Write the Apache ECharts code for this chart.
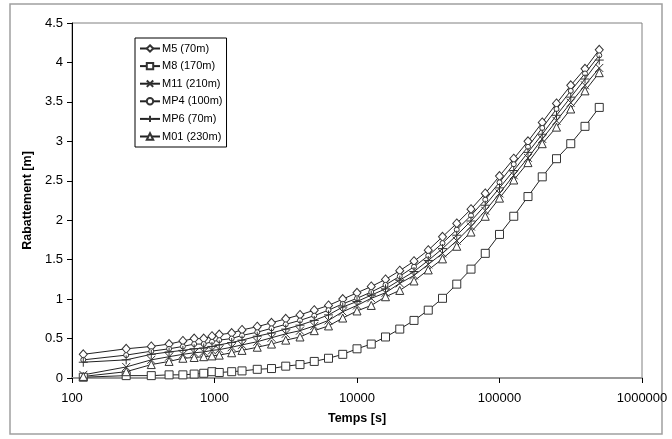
<!DOCTYPE html>
<html>
<head>
    <meta charset="utf-8"/>
    <title>Rabattement</title>
    <script src="https://cdn.jsdelivr.net/npm/echarts@6/dist/echarts.min.js"></script>
    <style>
        html, body { margin: 0; padding: 0; background: #fff; }
        #chart { width: 672px; height: 439px; }
    </style>
</head>
<body>
<div id="chart"></div>
<script type="text/javascript">
// temps [s]
var temps = [120, 240, 360, 480, 600, 720, 840, 960, 1080, 1320, 1560,
    1995, 2512, 3162, 3981, 5012, 6310, 7943,
    10000, 12589, 15849, 19953, 25119, 31623, 39811, 50119, 63096, 79433,
    100000, 125893, 158489, 199526, 251189, 316228, 398107, 501187];

// rabattement [m]
var m5 = [0.30, 0.37, 0.40, 0.43, 0.47, 0.50, 0.50, 0.53, 0.55, 0.57, 0.61,
    0.65, 0.70, 0.75, 0.80, 0.86, 0.92, 1.00,
    1.08, 1.16, 1.25, 1.36, 1.48, 1.62, 1.79, 1.96, 2.14, 2.34,
    2.56, 2.78, 3.00, 3.24, 3.48, 3.71, 3.92, 4.16];
var m8 = [0.01, 0.03, 0.03, 0.04, 0.04, 0.05, 0.06, 0.08, 0.07, 0.08, 0.09,
    0.11, 0.12, 0.15, 0.17, 0.21, 0.25, 0.30,
    0.37, 0.43, 0.52, 0.62, 0.73, 0.86, 1.01, 1.19, 1.38, 1.58,
    1.82, 2.05, 2.30, 2.55, 2.78, 2.97, 3.19, 3.43];
var m11 = [0.04, 0.14, 0.23, 0.27, 0.30, 0.32, 0.33, 0.35, 0.36, 0.39, 0.42,
    0.46, 0.51, 0.56, 0.60, 0.66, 0.73, 0.84,
    0.92, 1.01, 1.08, 1.20, 1.30, 1.44, 1.58, 1.74, 1.92, 2.12,
    2.34, 2.57, 2.79, 3.03, 3.26, 3.49, 3.71, 3.93];
var mp4 = [0.23, 0.29, 0.34, 0.37, 0.40, 0.43, 0.43, 0.46, 0.48, 0.50, 0.54,
    0.58, 0.63, 0.68, 0.73, 0.79, 0.86, 0.94,
    1.01, 1.09, 1.18, 1.29, 1.41, 1.55, 1.71, 1.88, 2.06, 2.26,
    2.48, 2.71, 2.93, 3.17, 3.41, 3.64, 3.86, 4.09];
var mp6 = [0.20, 0.23, 0.30, 0.33, 0.35, 0.37, 0.38, 0.40, 0.42, 0.45, 0.48,
    0.53, 0.57, 0.62, 0.67, 0.73, 0.80, 0.90,
    0.97, 1.05, 1.13, 1.24, 1.35, 1.49, 1.64, 1.81, 1.99, 2.19,
    2.41, 2.63, 2.86, 3.09, 3.33, 3.56, 3.79, 4.03];
var m01 = [0.02, 0.08, 0.17, 0.21, 0.25, 0.26, 0.27, 0.28, 0.29, 0.32, 0.35,
    0.39, 0.43, 0.48, 0.52, 0.60, 0.66, 0.76,
    0.85, 0.92, 1.03, 1.11, 1.23, 1.37, 1.51, 1.67, 1.85, 2.05,
    2.28, 2.51, 2.73, 2.97, 3.18, 3.41, 3.64, 3.87];

var noms = ['M5 (70m)', 'M8 (170m)', 'M11 (210m)', 'MP4 (100m)', 'MP6 (70m)', 'M01 (230m)'];

var FONT = 'Arial, "Liberation Sans", sans-serif';
var chart = echarts.init(document.getElementById('chart'));

function paires(ys) {
    return temps.map(function(t, i) { return [t, ys[i]]; });
}

function serie(nom, ys, symbole, taille) {
    return {
        name: nom,
        type: 'line',
        data: paires(ys),
        symbol: symbole,
        symbolSize: taille,
        showAllSymbol: true,
        lineStyle: { color: '#222', width: 1 },
        itemStyle: { color: '#fff', borderColor: '#333', borderWidth: 1 },
        emphasis: { disabled: true },
        animation: false
    };
}

var option = {
    backgroundColor: '#fff',
    animation: false,
    graphic: [{
        type: 'rect',
        shape: { x: 10, y: 4, width: 652, height: 430 },
        style: { fill: 'none', stroke: '#a0a0a0', lineWidth: 1.5 },
        silent: true
    }],
    grid: {
        left: 72, right: 30, top: 23, bottom: 61,
        show: true, borderColor: '#808080', borderWidth: 1
    },
    legend: {
        orient: 'vertical',
        left: 135, top: 38,
        padding: [5, 4, 5, 4],
        itemGap: 6.6,
        itemWidth: 20, itemHeight: 8,
        borderColor: '#000', borderWidth: 1,
        backgroundColor: '#fff',
        textStyle: { fontFamily: FONT, fontSize: 11, color: '#000', padding: [0, 0, 0, -3] },
        data: noms
    },
    xAxis: {
        type: 'log', logBase: 10, min: 100, max: 1000000,
        name: 'Temps [s]', nameLocation: 'middle', nameGap: 34,
        nameTextStyle: { fontFamily: FONT, fontSize: 12.5, fontWeight: 'bold', color: '#000' },
        axisLine: { lineStyle: { color: '#999', width: 2 } },
        axisTick: { inside: false, length: 5, lineStyle: { color: '#000' } },
        minorTick: { show: false },
        splitLine: { show: false },
        axisLabel: {
            margin: 14, fontFamily: FONT, fontSize: 13, color: '#000',
            formatter: function(v) { return String(Math.round(v)); }
        }
    },
    yAxis: {
        type: 'value', min: 0, max: 4.5, interval: 0.5,
        name: 'Rabattement [m]', nameLocation: 'middle', nameGap: 38, nameRotate: 90,
        nameTextStyle: { fontFamily: FONT, fontSize: 12.5, fontWeight: 'bold', color: '#000' },
        axisLine: { show: true, lineStyle: { color: '#000', width: 1 } },
        axisTick: { show: true, inside: false, length: 5, lineStyle: { color: '#000' } },
        splitLine: { show: false },
        axisLabel: { margin: 9, fontFamily: FONT, fontSize: 13, color: '#000' }
    },
    series: [
        serie(noms[0], m5, 'diamond', [8, 9]),
        serie(noms[1], m8, 'rect', 8),
        serie(noms[2], m11, 'path://M0,0L10,10M10,0L0,10', 8),
        serie(noms[3], mp4, 'circle', 5),
        serie(noms[4], mp6, 'path://M5,0L5,10M0,5L10,5', 9),
        serie(noms[5], m01, 'triangle', 8)
    ]
};

chart.setOption(option);
</script>
</body>
</html>
